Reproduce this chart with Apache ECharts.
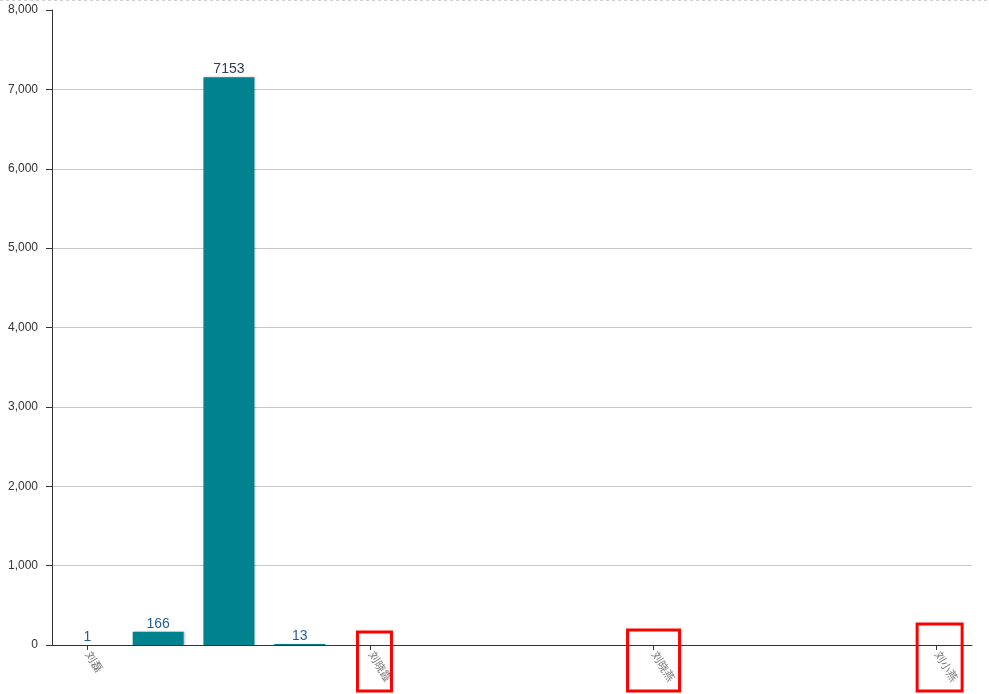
<!DOCTYPE html>
<html>
<head>
<meta charset="utf-8">
<script src="https://cdn.jsdelivr.net/npm/echarts@6/dist/echarts.min.js"></script>
<style>
html,body{margin:0;padding:0;background:#fff;}
#main{width:989px;height:694px;}
</style>
</head>
<body>
<div id="main"></div>
<script>
var categories = ["刘磊","刘涛","刘洋","刘伟","刘晓霞","刘芳","刘杰","刘静","刘晓燕","刘敏","刘强","刘勇","刘小燕"];
var values = [1,166,7153,13,null,null,null,null,null,null,null,null,null];
var yTicks = [0,1000,2000,3000,4000,5000,6000,7000,8000];
var highlighted = [4,8,12];

var chart = echarts.init(document.getElementById('main'));
var font = '"Liberation Sans", Arial, "Noto Sans CJK SC", sans-serif';
var option = {
  animation:false,
  grid:{left:52,right:17,top:10,bottom:49,containLabel:false},
  xAxis:{
    type:'category',
    data:categories,
    axisLine:{lineStyle:{color:'#333',width:1}},
    axisTick:{show:true,interval:3,alignWithLabel:true,length:5,lineStyle:{color:'#333'}},
    axisLabel:{interval:3,rotate:-58,color:'#777',fontSize:11,fontFamily:font,margin:8}
  },
  yAxis:{
    type:'value',
    min:yTicks[0],max:yTicks[yTicks.length-1],interval:1000,
    axisLine:{show:true,lineStyle:{color:'#333'}},
    axisTick:{show:true,length:6,lineStyle:{color:'#333'}},
    axisLabel:{color:'#333',fontSize:12,fontFamily:font,margin:14,
      formatter:function(v){return v.toLocaleString('en-US');}},
    splitLine:{show:true,showMaxLine:false,lineStyle:{color:'#c8c8c8'}}
  },
  series:[{
    type:'bar',
    data:values.map(function(v,i){
      return {value:v,label:{color: v>1000 ? '#2b3f4f' : '#1f5f96'}};
    }),
    barWidth:'72%',
    itemStyle:{color:'#00828f',shadowColor:'rgba(0,0,0,0.25)',shadowBlur:2,shadowOffsetX:1},
    label:{show:true,position:'top',fontSize:14,fontFamily:font,distance:1}
  }]
};
chart.setOption(option);

var boxes = [];
var boxDims = [{w:34,top:632,dx:4},{w:52,top:630,dx:0},{w:45,top:624,dx:3}];
highlighted.forEach(function(idx,k){
  var px = chart.convertToPixel({xAxisIndex:0}, categories[idx]);
  var d = boxDims[k];
  var cx = px + d.dx;
  boxes.push({type:'rect',shape:{x:cx-d.w/2,y:d.top,width:d.w,height:691-d.top},
    style:{fill:'none',stroke:'#ff0000',lineWidth:3},z:100});
});
boxes.push({type:'line',shape:{x1:0,y1:0.5,x2:989,y2:0.5},
  style:{stroke:'#cfcfcf',lineWidth:1,lineDash:[3,3]},z:100});
chart.setOption({graphic:boxes});
</script>
</body>
</html>
